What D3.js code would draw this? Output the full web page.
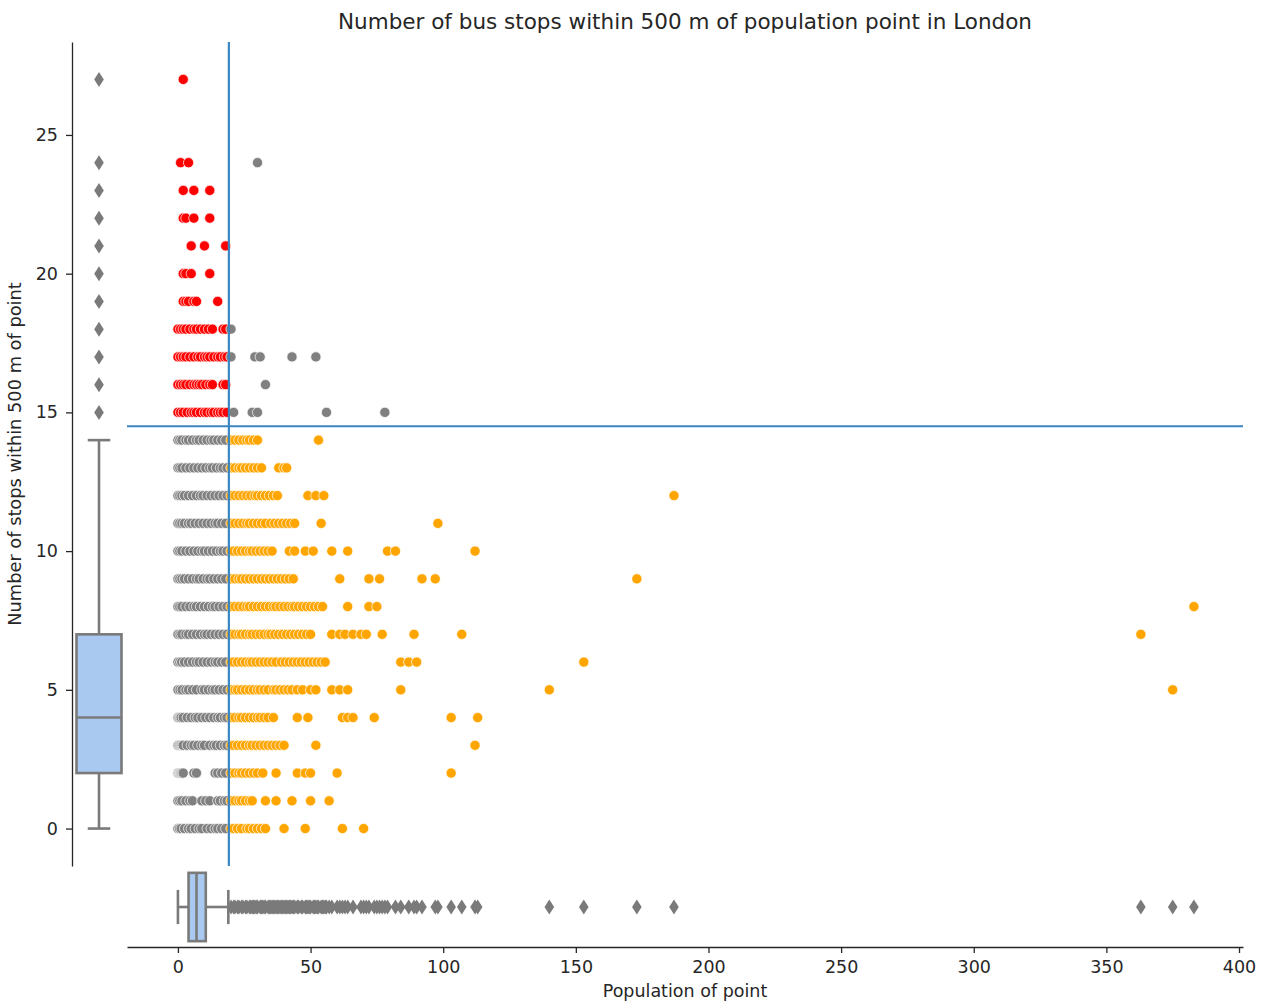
<!DOCTYPE html>
<html>
<head>
<meta charset="utf-8">
<script src="https://cdn.jsdelivr.net/npm/d3@7"></script>
<style>
  body { margin: 0; background: #ffffff; }
  svg text { font-family: "DejaVu Sans", sans-serif; fill: #262626; }
</style>
</head>
<body>
<svg id="chart" width="1263" height="1002"></svg>
<script>
// ---- Text ----
const chartTitle = "Number of bus stops within 500 m of population point in London";
const xLabel = "Population of point";
const yLabel = "Number of stops within 500 m of point";

// ---- Axis ticks ----
const stopTicks = [0, 5, 10, 15, 20, 25];
const populationTicks = [0, 50, 100, 150, 200, 250, 300, 350, 400];

// ---- Cut-off lines used to colour the points ----
const populationCut = 19.2;   // vertical line
const stopsCut = 14.5;        // horizontal line

// ---- Box-plot summaries: [lower whisker, Q1, median, Q3, upper whisker] ----
const stopsBox = [0, 2, 4, 7, 14];
const populationBox = [0, 4, 7, 10.5, 19];

// ---- Points: stop count (row) and the populations found at that stop count ----
const stopLevels = [0, 1, 2, 3, 4, 5, 6, 7, 8, 9, 10, 11, 12, 13, 14, 15, 16, 17, 18, 19, 20, 21, 22, 23, 24, 25, 26, 27];
const populationsByStops = [
  [0,0.6,1.2,2.5,4,5,6.5,8,9,11,12.5,14,15,16.5,18,20,21,22.5,24,26,27,28.5,30,31.5,33,40,48,62,70],
  [0,0.7,1.5,3,4.5,5.5,9,10.5,12,15,16,17.5,18.5,20,21.5,23,24,25.5,27,28,33,37,43,50,57],
  [0,0.3,0.6,0.9,1.2,1.6,2,6,7,14,15,16.5,18,20,21.5,23,24,25.5,27,28.5,30,32,37,45,48,50,60,103],
  [0,0.4,0.8,1.2,1.6,2,3.5,5,6,7.5,9,10,12,13.5,14.5,16,17.5,18.5,20,21,22.5,24,25.5,27,28,29.5,31,32.5,34,35.5,37,38.5,40,52,112],
  [0,0.4,0.8,1.2,2,3.5,5,6.5,7.5,9,10.5,12,13.5,15,16,17.5,18.5,20,21.5,23,24,25.5,27,28.5,30,31,32.5,34,36,45,49,62,64,66,74,103,113],
  [0,0.8,1.6,3,4,5.5,7,9,10,11.5,13,14,15.5,17,18.5,20,21.5,22.5,24,25.5,27,28.5,30,31,32.5,34,36,37,38.5,40,41.5,43,45,47,50,52,58,61,64,84,140,375],
  [0,0.7,1.4,2.5,4,5.5,7,8,9.5,11,12.5,14,15,16.5,18,20,21,22.5,24,25.5,27,28,29.5,31,32.5,34,35.5,37,39,40.5,42,43.5,45,46.5,48,49.5,51,52.5,54,55.5,84,87,90,153],
  [0,0.8,1.5,3,4,5.5,7,8.5,10,11,12.5,14,15.5,17,18.5,20,21.5,23,24,25.5,27,28,29.5,31,32.5,34,35,36.5,38,39.5,41,42.5,44,45.5,47,48.5,50,58,61,63,66,69,71,77,89,107,363],
  [0,0.7,1.5,3,4.5,6,7,8.5,10,11.5,13,14,15.5,17,18.5,20,21.5,23,24.5,26,27,28.5,30,31.5,33,34.5,36,37,38.5,40,41.5,43,44,45.5,47,48.5,50,51.5,53,54.5,64,72,75,383],
  [0,0.7,1.5,2.5,4,5.5,7,8,9.5,11,12,13.5,15,16.5,18,20,21.5,23,24,25.5,27,28.5,30,31.5,33,34.5,36,37.5,39,40.5,42,43.5,61,72,76,92,97,173],
  [0,0.7,1.5,3,4.5,6,7.5,9,10,11.5,13,14.5,16,17,18.5,20,21,22.5,24,25.5,27,28,29.5,31,32.5,34,35.5,42,44,48,51,58,64,79,82,112],
  [0,0.7,1.5,2.5,4,5,6.5,8,9.5,11,12.5,14,15,16.5,18,20,21.5,23,24.5,26,27,28.5,30,31.5,33,35,36.5,38,39.5,41,42.5,44,54,98],
  [0,0.7,1.5,2.5,4,5.5,7,8.5,9.5,11,12.5,14,15.5,17,18.5,20,21.5,23,24.5,26,27.5,29,30,31.5,33,34.5,36,37.5,49,52,55,187],
  [0,0.7,1.5,3,4.5,6,7.5,9,10.5,12,13,14.5,16,17,18.5,20,21.5,23,24,25.5,27,28.5,30,31.5,38,40,41],
  [0,0.7,1.5,3,4,5.5,7,8,9.5,11,12.5,13.5,15,16.5,18,20,21.5,23,24.5,26,27,28.5,30,53],
  [0,1,2,3.5,5,6,7,8.5,10,11,12.5,13.5,15,16,17,18.5,21,28,30,56,78],
  [0,1,2,3,4.5,6,7,8,9,10.5,12,13,17,18,33],
  [0,1,2,3,4.5,6,7.5,8.5,10,11,12,13.5,15,16,17.5,18.5,20,29,31,43,52],
  [0,1,2,3,4.5,6,7,8.5,10,11.5,13,17,18,20],
  [2,3,4,6,7,15],
  [2,3,5,12],
  [5,10,18],
  [2,3,6,12],
  [2,6,12],
  [1,4,30],
  [],
  [],
  [2]
];

// ---- Colours ----
const colorHighStopsLowPop = "#ff0000";
const colorLowStopsHighPop = "#ffa500";
const colorOther = "#808080";
const boxFill = "#a9c9f1";
const boxLine = "#7a7a7a";
const cutLineColor = "#3a86c2";

// ---- Layout ----
const svg = d3.select("#chart");
const main = { left: 127, right: 1243, top: 42, bottom: 866 };
const stopsAxisX = 72;
const populationAxisY = 947;

const x = d3.scaleLinear().domain([-19.2, 401.5]).range([main.left, main.right]);
const y = d3.scaleLinear().domain([-1.35, 28.35]).range([main.bottom, main.top]);

// marginal box positions
const stopsBand = d3.scaleBand().domain(["stops"]).range([stopsAxisX, 126]).paddingInner(0).paddingOuter(0.1);
const popBand = d3.scaleBand().domain(["population"]).range([main.bottom, 948]).paddingInner(0).paddingOuter(0.1);

// flatten the rows into points
const points = stopLevels.flatMap((s, i) =>
  populationsByStops[i].map(p => ({ stops: s, population: p }))
);

function pointColor(d) {
  const highStops = d.stops > stopsCut;
  const highPop = d.population > populationCut;
  if (highStops && !highPop) return colorHighStopsLowPop;
  if (!highStops && highPop) return colorLowStopsHighPop;
  return colorOther;
}

// ---- Title and axis labels ----
svg.append("text")
  .attr("x", (main.left + main.right) / 2)
  .attr("y", 29)
  .attr("text-anchor", "middle")
  .style("font-size", "21.5px")
  .text(chartTitle);

svg.append("text")
  .attr("transform", `translate(21, 454) rotate(-90)`)
  .attr("text-anchor", "middle")
  .style("font-size", "17.8px")
  .text(yLabel);

svg.append("text")
  .attr("x", (main.left + main.right) / 2)
  .attr("y", 997)
  .attr("text-anchor", "middle")
  .style("font-size", "17.5px")
  .text(xLabel);

// ---- Axes ----
const yAxis = d3.axisLeft(y).tickValues(stopTicks).tickSize(6).tickSizeOuter(0).tickPadding(8);
const gy = svg.append("g").attr("transform", `translate(${stopsAxisX},0)`).call(yAxis);

const xAxis = d3.axisBottom(x).tickValues(populationTicks).tickSize(6).tickSizeOuter(0).tickPadding(8);
const gx = svg.append("g").attr("transform", `translate(0,${populationAxisY})`).call(xAxis);

[gy, gx].forEach(g => {
  g.select(".domain").attr("stroke", "#262626").attr("stroke-width", 1.3);
  g.selectAll(".tick line").attr("stroke", "#262626").attr("stroke-width", 1.3);
  g.selectAll(".tick text").style("font-size", "17.5px").attr("fill", "#262626").attr("font-family", "DejaVu Sans, sans-serif");
});

// ---- Scatter ----
svg.append("g")
  .selectAll("circle")
  .data(points)
  .join("circle")
  .attr("cx", d => x(d.population))
  .attr("cy", d => y(d.stops))
  .attr("r", 5.1)
  .attr("fill", pointColor)
  .attr("stroke", "#ffffff")
  .attr("stroke-width", 0.7);

// ---- Cut-off lines ----
svg.append("line")
  .attr("x1", x(populationCut)).attr("x2", x(populationCut))
  .attr("y1", main.top).attr("y2", main.bottom)
  .attr("stroke", cutLineColor).attr("stroke-width", 2.2);

svg.append("line")
  .attr("x1", main.left).attr("x2", main.right)
  .attr("y1", y(stopsCut)).attr("y2", y(stopsCut))
  .attr("stroke", cutLineColor).attr("stroke-width", 2.2);

// ---- Diamond flier shape ----
const diamond = "M0,-7.5L4.8,0L0,7.5L-4.8,0Z";

// ---- Box plot of stop counts (vertical, left) ----
{
  const [lo, q1, med, q3, hi] = stopsBox;
  const bx = stopsBand("stops");
  const bw = stopsBand.bandwidth();
  const cx = bx + bw / 2;
  const g = svg.append("g").attr("stroke", boxLine).attr("stroke-width", 2.6);
  g.append("line").attr("x1", cx).attr("x2", cx).attr("y1", y(lo)).attr("y2", y(q1));
  g.append("line").attr("x1", cx).attr("x2", cx).attr("y1", y(q3)).attr("y2", y(hi));
  g.append("line").attr("x1", cx - bw / 4).attr("x2", cx + bw / 4).attr("y1", y(lo)).attr("y2", y(lo));
  g.append("line").attr("x1", cx - bw / 4).attr("x2", cx + bw / 4).attr("y1", y(hi)).attr("y2", y(hi));
  g.append("rect").attr("x", bx).attr("width", bw).attr("y", y(q3)).attr("height", y(q1) - y(q3)).attr("fill", boxFill);
  g.append("line").attr("x1", bx).attr("x2", bx + bw).attr("y1", y(med)).attr("y2", y(med));
  const fliers = Array.from(new Set(points.map(d => d.stops).filter(v => v > hi)));
  svg.append("g").selectAll("path").data(fliers).join("path")
    .attr("d", diamond)
    .attr("transform", v => `translate(${cx},${y(v)})`)
    .attr("fill", boxLine);
}

// ---- Box plot of population (horizontal, bottom) ----
{
  const [lo, q1, med, q3, hi] = populationBox;
  const by = popBand("population");
  const bh = popBand.bandwidth();
  const cy = by + bh / 2;
  const g = svg.append("g").attr("stroke", boxLine).attr("stroke-width", 2.6);
  g.append("line").attr("y1", cy).attr("y2", cy).attr("x1", x(lo)).attr("x2", x(q1));
  g.append("line").attr("y1", cy).attr("y2", cy).attr("x1", x(q3)).attr("x2", x(hi));
  g.append("line").attr("y1", cy - bh / 4).attr("y2", cy + bh / 4).attr("x1", x(lo)).attr("x2", x(lo));
  g.append("line").attr("y1", cy - bh / 4).attr("y2", cy + bh / 4).attr("x1", x(hi)).attr("x2", x(hi));
  g.append("rect").attr("y", by).attr("height", bh).attr("x", x(q1)).attr("width", x(q3) - x(q1)).attr("fill", boxFill);
  g.append("line").attr("y1", by).attr("y2", by + bh).attr("x1", x(med)).attr("x2", x(med));
  const fliers = Array.from(new Set(points.map(d => d.population).filter(v => v > hi)));
  svg.append("g").selectAll("path").data(fliers).join("path")
    .attr("d", diamond)
    .attr("transform", v => `translate(${x(v)},${cy})`)
    .attr("fill", boxLine);
}
</script>
</body>
</html>
